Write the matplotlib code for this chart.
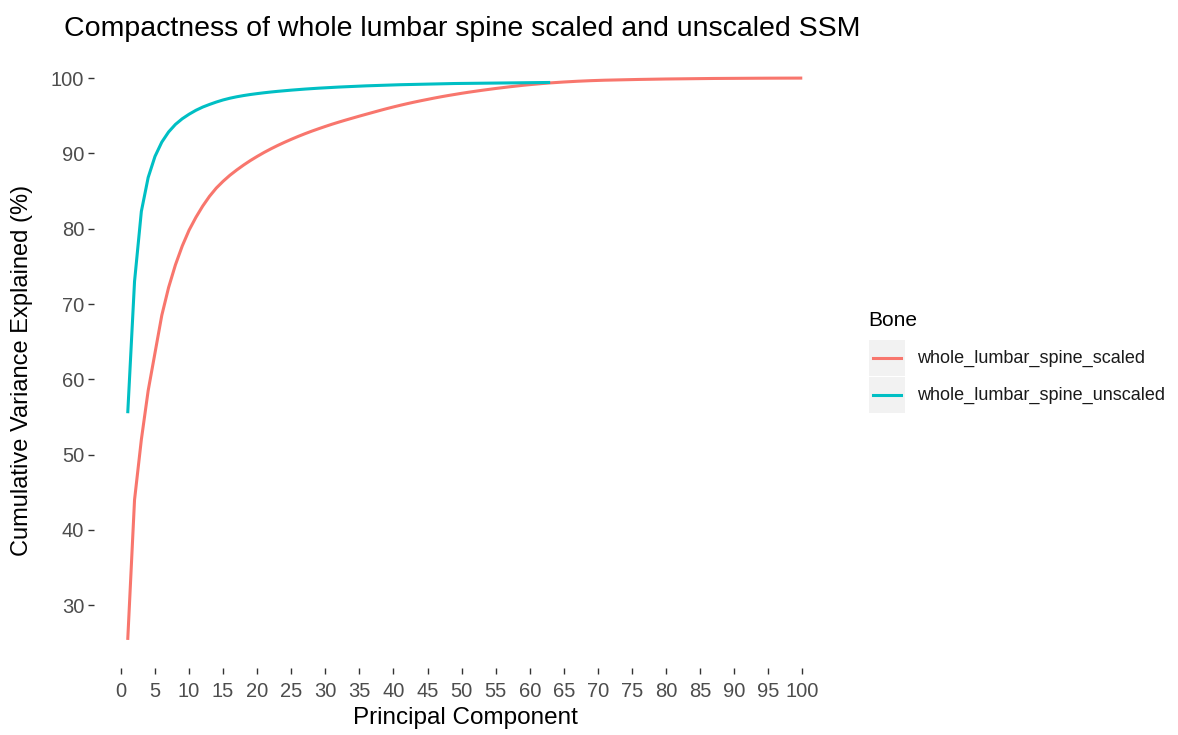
import matplotlib
matplotlib.use("Agg")
import matplotlib.pyplot as plt
from matplotlib.patches import Rectangle
from matplotlib.lines import Line2D

plt.rcParams["font.family"] = ["Liberation Sans", "DejaVu Sans"]

# Cumulative variance explained (%) per principal component
scaled_pct = [
    25.4, 44.0, 52.0, 58.5, 63.5, 68.5, 72.2, 75.2, 77.7, 79.8,
    81.5, 83.0, 84.3, 85.4, 86.3, 87.1, 87.8, 88.45, 89.05, 89.6,
    90.12, 90.6, 91.05, 91.47, 91.87, 92.25, 92.61, 92.95, 93.27, 93.58,
    93.88, 94.16, 94.43, 94.69, 94.95, 95.2, 95.45, 95.7, 95.94, 96.17,
    96.39, 96.6, 96.8, 96.99, 97.17, 97.35, 97.52, 97.68, 97.83, 97.98,
    98.12, 98.25, 98.38, 98.5, 98.62, 98.73, 98.84, 98.94, 99.04, 99.13,
    99.21, 99.29, 99.36, 99.42, 99.48, 99.53, 99.58, 99.62, 99.66, 99.69,
    99.72, 99.74, 99.76, 99.78, 99.8, 99.82, 99.835, 99.85, 99.865, 99.88,
    99.89, 99.9, 99.91, 99.92, 99.93, 99.94, 99.95, 99.955, 99.96, 99.965,
    99.97, 99.975, 99.98, 99.984, 99.988, 99.991, 99.994, 99.996, 99.998, 100.0,
]
unscaled_pct = [
    55.5, 73.0, 82.3, 86.8, 89.6, 91.5, 92.85, 93.85, 94.6, 95.2,
    95.72, 96.15, 96.5, 96.82, 97.1, 97.33, 97.52, 97.68, 97.82, 97.94,
    98.05, 98.15, 98.24, 98.32, 98.4, 98.47, 98.54, 98.6, 98.66, 98.71,
    98.76, 98.81, 98.85, 98.89, 98.93, 98.97, 99.0, 99.03, 99.06, 99.09,
    99.12, 99.14, 99.16, 99.18, 99.2, 99.22, 99.24, 99.26, 99.28, 99.29,
    99.3, 99.31, 99.32, 99.33, 99.34, 99.35, 99.36, 99.37, 99.38, 99.39,
    99.4, 99.41, 99.42,
]
series_names = ["whole_lumbar_spine_scaled", "whole_lumbar_spine_unscaled"]
series_colors = ["#F8766D", "#00BFC4"]
x_ticks = list(range(0, 101, 5))
y_ticks = [30, 40, 50, 60, 70, 80, 90, 100]

W, H = 1178, 735
fig = plt.figure(figsize=(W / 100, H / 100), dpi=100)
ax = fig.add_axes([94 / W, 1 - 668 / H, 742 / W, 618 / H])

for vals, col in zip([scaled_pct, unscaled_pct], series_colors):
    ax.plot(range(1, len(vals) + 1), vals, color=col, lw=2.2,
            solid_capstyle="butt")

ax.margins(x=0.05, y=0.05)
ax.set_xticks(x_ticks)
ax.set_yticks(y_ticks)
for s in ax.spines.values():
    s.set_visible(False)
ax.tick_params(axis="both", colors="#333333", length=4, width=1,
               labelsize=14.5, labelcolor="#4D4D4D", pad=3)
ax.tick_params(axis="x", pad=6)

fig.text(465 / W, 1 - 718 / H, "Principal Component", fontsize=17.5,
         ha="center", va="center")
fig.text(22 / W, 1 - 370 / H, "Cumulative Variance Explained (%)",
         fontsize=17, rotation=90, ha="center", va="center")
fig.text(64 / W, 1 - 29 / H,
         "Compactness of whole lumbar spine scaled and unscaled SSM",
         fontsize=20.5, ha="left", va="center")

# Legend
fig.text(868 / W, 1 - 321 / H, "Bone", fontsize=15, ha="left", va="center")
key_rows = [358, 395]
for yk, name, col in zip(key_rows, series_names, series_colors):
    fig.patches.append(Rectangle((869 / W, 1 - (yk + 18) / H), 36 / W, 36 / H,
                                 transform=fig.transFigure, facecolor="#F2F2F2",
                                 edgecolor="none"))
    fig.lines.append(Line2D([873 / W, 901 / W], [1 - yk / H, 1 - yk / H],
                            transform=fig.transFigure, color=col, lw=2.2))
    fig.text(917 / W, 1 - yk / H, name, fontsize=13, ha="left", va="center",
             color="#1A1A1A")

fig.savefig("out.png", dpi=100, facecolor="white")
